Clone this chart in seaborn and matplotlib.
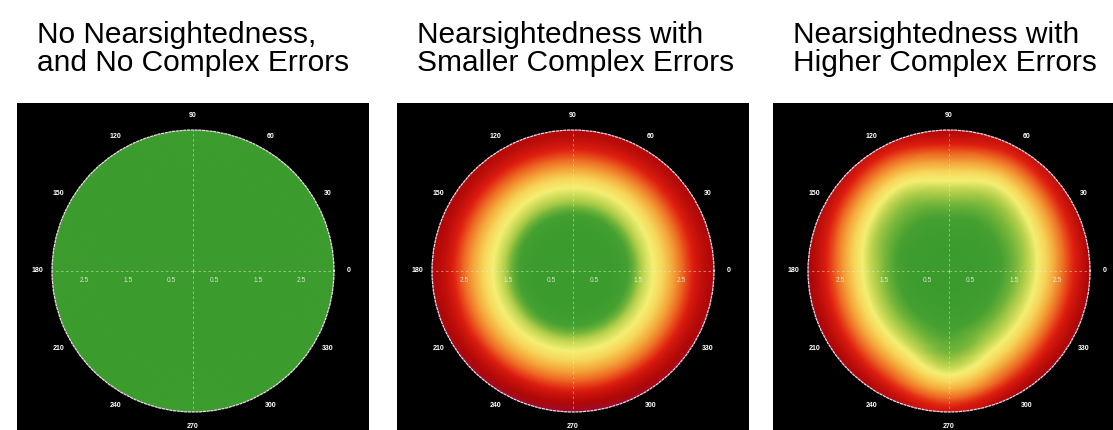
import numpy as np
import matplotlib
matplotlib.use('Agg')
import matplotlib.pyplot as plt
import matplotlib.tri as mtri
import seaborn as sns

titles = [
    'No Nearsightedness,\nand No Complex Errors',
    'Nearsightedness with\nSmaller Complex Errors',
    'Nearsightedness with\nHigher Complex Errors',
]

# sample grid of the error maps: angle (deg) x radius (mm)
angles_deg = [0, 30, 60, 90, 120, 150, 180, 210, 240, 270, 300, 330]
radii_mm = [0, 0.5, 1.0, 1.3, 1.6, 1.9, 2.15, 2.4, 2.65, 2.9, 3.15, 3.5]
r_max = 3.25
r_ticks = [0.5, 1.5, 2.5]
theta_ticks = [0, 30, 60, 90, 120, 150, 180, 210, 240, 270, 300, 330]

# error level, 0 = none (green) ... 1 = largest (purple)
err_none = np.zeros((12, 12))

err_small = np.array([
    [0, 0, 0.02, 0.12, 0.30, 0.42, 0.53, 0.64, 0.75, 0.84, 0.89, 0.92],
    [0, 0, 0.02, 0.11, 0.29, 0.41, 0.52, 0.63, 0.74, 0.83, 0.89, 0.92],
    [0, 0, 0.02, 0.10, 0.27, 0.39, 0.50, 0.62, 0.73, 0.82, 0.88, 0.92],
    [0, 0, 0.02, 0.10, 0.27, 0.39, 0.50, 0.62, 0.73, 0.82, 0.88, 0.92],
    [0, 0, 0.02, 0.10, 0.27, 0.39, 0.50, 0.62, 0.73, 0.82, 0.88, 0.92],
    [0, 0, 0.02, 0.11, 0.29, 0.41, 0.52, 0.63, 0.74, 0.83, 0.89, 0.92],
    [0, 0, 0.02, 0.12, 0.30, 0.42, 0.53, 0.64, 0.75, 0.84, 0.89, 0.92],
    [0, 0, 0.02, 0.12, 0.30, 0.42, 0.53, 0.64, 0.75, 0.84, 0.90, 0.95],
    [0, 0, 0.02, 0.12, 0.30, 0.42, 0.53, 0.64, 0.75, 0.85, 0.91, 1.00],
    [0, 0, 0.02, 0.12, 0.30, 0.42, 0.53, 0.64, 0.75, 0.85, 0.92, 1.02],
    [0, 0, 0.02, 0.12, 0.30, 0.42, 0.53, 0.64, 0.75, 0.85, 0.91, 1.00],
    [0, 0, 0.02, 0.12, 0.30, 0.42, 0.53, 0.64, 0.75, 0.84, 0.90, 0.95],
])

err_high = np.array([
    [0, 0.01, 0.05, 0.13, 0.23, 0.34, 0.46, 0.58, 0.70, 0.80, 0.88, 0.98],
    [0, 0.01, 0.04, 0.11, 0.20, 0.29, 0.40, 0.52, 0.64, 0.76, 0.85, 0.93],
    [0, 0.01, 0.04, 0.10, 0.18, 0.26, 0.35, 0.47, 0.60, 0.72, 0.82, 0.90],
    [0, 0.01, 0.05, 0.12, 0.22, 0.32, 0.43, 0.55, 0.67, 0.78, 0.87, 0.92],
    [0, 0.01, 0.04, 0.10, 0.18, 0.26, 0.35, 0.47, 0.60, 0.72, 0.82, 0.90],
    [0, 0.01, 0.04, 0.11, 0.20, 0.29, 0.40, 0.52, 0.64, 0.76, 0.85, 0.92],
    [0, 0.01, 0.05, 0.14, 0.25, 0.36, 0.48, 0.60, 0.72, 0.82, 0.89, 0.93],
    [0, 0.01, 0.05, 0.14, 0.25, 0.36, 0.48, 0.60, 0.72, 0.82, 0.89, 0.93],
    [0, 0.01, 0.05, 0.12, 0.22, 0.32, 0.43, 0.55, 0.67, 0.78, 0.87, 0.94],
    [0, 0.01, 0.04, 0.09, 0.15, 0.21, 0.29, 0.40, 0.54, 0.68, 0.80, 0.92],
    [0, 0.01, 0.05, 0.12, 0.22, 0.32, 0.43, 0.55, 0.67, 0.78, 0.88, 0.98],
    [0, 0.01, 0.05, 0.14, 0.25, 0.36, 0.48, 0.60, 0.72, 0.82, 0.89, 0.98],
])

maps = [err_none, err_small, err_high]

err_colors = ['#3c9c2e', '#46a132', '#74b63a', '#bad24e', '#f5f074', '#f7d65a',
              '#f4a83c', '#ee6b24', '#de1e10', '#b00808', '#86125c']

sns.set_theme(style='white')
plt.rcParams['font.family'] = ['Liberation Sans', 'DejaVu Sans']
cmap = sns.blend_palette(err_colors, as_cmap=True)


def error_surface(vals):
    th = np.deg2rad(angles_deg + [360])
    z = np.vstack([vals, vals[:1]])
    T, R = np.meshgrid(th, radii_mm, indexing='ij')
    tri = mtri.Triangulation(T.ravel(), R.ravel())
    interp = mtri.CubicTriInterpolator(tri, z.ravel(), kind='geom')
    TF, RF = np.meshgrid(np.linspace(0, 2 * np.pi, 361), np.linspace(0, r_max, 160))
    return TF, RF, interp(TF, RF)


W, H = 1113, 430
fig = plt.figure(figsize=(W / 100, H / 100), dpi=100)

bg_left = [17, 397, 773]
bg_size = 352
bg_top = 103
circ_r = 141
circ_cy = 271

for i, vals in enumerate(maps):
    bg = fig.add_axes([bg_left[i] / W, (H - bg_top - bg_size) / H, bg_size / W, bg_size / H])
    bg.set_facecolor('black')
    bg.set_xticks([])
    bg.set_yticks([])
    for s in bg.spines.values():
        s.set_visible(False)

    cx = bg_left[i] + bg_size / 2
    ax = fig.add_axes([(cx - circ_r) / W, (H - circ_cy - circ_r) / H, 2 * circ_r / W, 2 * circ_r / H],
                      projection='polar')
    ax.set_facecolor('black')
    TF, RF, Z = error_surface(vals)
    ax.pcolormesh(TF, RF, Z, shading='gouraud', cmap=cmap, vmin=0, vmax=1)
    ax.set_ylim(0, r_max)
    ax.grid(False)
    ax.set_xticks(np.deg2rad(theta_ticks))
    ax.set_xticklabels([str(t) for t in theta_ticks], color='white', fontsize=5, fontweight='bold')
    ax.tick_params(axis='x', length=0, pad=3.5)
    ax.set_yticks([])
    for a in [0, 90, 180, 270]:
        ax.axvline(np.deg2rad(a), color='#e8f0d8', lw=0.6, ls=(0, (3, 3)), alpha=0.55)
    ax.spines['polar'].set_color('#f0d8ec')
    ax.spines['polar'].set_linewidth(0.9)
    ax.spines['polar'].set_linestyle((0, (1.5, 1.5)))
    for rt in r_ticks:
        for a in [0, np.pi]:
            ax.annotate(f'{rt:.1f}', (a, rt), xytext=(0, -4), textcoords='offset points',
                        color='#f4f4e8', fontsize=4.8, ha='center', va='top', alpha=0.85)

    fig.text((bg_left[i] + 20) / W, 1 - 21 / H, titles[i], ha='left', va='top',
             fontsize=21.5, color='black', linespacing=1.0)

fig.savefig('out.png', dpi=100)
